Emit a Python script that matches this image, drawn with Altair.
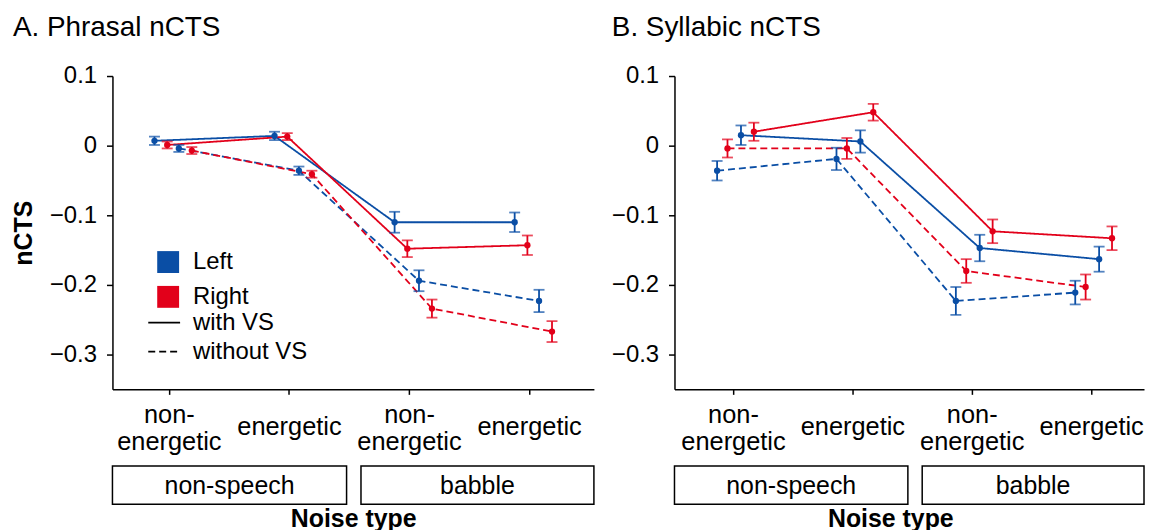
import json
import altair as alt
import pandas as pd

FONT = "Liberation Sans"
BLUE = "#0a4ea5"
RED = "#e2001a"

# ---------------- data ----------------
conditions = ["non-energetic", "energetic", "non-energetic", "energetic"]
condition_lines = [["non-", "energetic"], ["energetic"], ["non-", "energetic"], ["energetic"]]
noise_groups = ["non-speech", "babble"]
group_first = [1, 3]
group_last = [2, 4]
hemispheres = ["Left", "Right"]
vs_labels = ["with VS", "without VS"]

# Panel A: Phrasal nCTS
a_left_vs = [0.007, 0.014, -0.110, -0.110]
a_left_vs_err = [0.006, 0.006, 0.015, 0.014]
a_right_vs = [0.001, 0.013, -0.148, -0.143]
a_right_vs_err = [0.005, 0.005, 0.012, 0.014]
a_left_novs = [-0.004, -0.036, -0.194, -0.223]
a_left_novs_err = [0.005, 0.006, 0.015, 0.016]
a_right_novs = [-0.007, -0.041, -0.234, -0.267]
a_right_novs_err = [0.005, 0.005, 0.013, 0.015]

# Panel B: Syllabic nCTS
b_left_vs = [0.015, 0.006, -0.147, -0.163]
b_left_vs_err = [0.014, 0.016, 0.019, 0.018]
b_right_vs = [0.020, 0.048, -0.123, -0.133]
b_right_vs_err = [0.013, 0.012, 0.017, 0.017]
b_left_novs = [-0.036, -0.019, -0.223, -0.211]
b_left_novs_err = [0.014, 0.016, 0.020, 0.017]
b_right_novs = [-0.004, -0.004, -0.180, -0.203]
b_right_novs_err = [0.013, 0.015, 0.017, 0.018]

# horizontal dodge of each series within a condition (layout)
a_offsets = {("Left", "with VS"): -0.120, ("Right", "with VS"): -0.014,
             ("Left", "without VS"): 0.083, ("Right", "without VS"): 0.191}
b_offsets = {("Left", "without VS"): -0.133, ("Right", "without VS"): -0.046,
             ("Left", "with VS"): 0.067, ("Right", "with VS"): 0.175}

a_series = [("Left", "with VS", a_left_vs, a_left_vs_err),
            ("Right", "with VS", a_right_vs, a_right_vs_err),
            ("Left", "without VS", a_left_novs, a_left_novs_err),
            ("Right", "without VS", a_right_novs, a_right_novs_err)]
b_series = [("Left", "with VS", b_left_vs, b_left_vs_err),
            ("Right", "with VS", b_right_vs, b_right_vs_err),
            ("Left", "without VS", b_left_novs, b_left_novs_err),
            ("Right", "without VS", b_right_novs, b_right_novs_err)]


def build(series, offsets):
    rows = []
    for hemi, vs, means, errs in series:
        for i, (m, e) in enumerate(zip(means, errs)):
            rows.append(dict(hemi=hemi, vs=vs, key=f"{hemi} {vs}", cond=conditions[i],
                             x=i + 1 + offsets[(hemi, vs)], y=m, lo=m - e, hi=m + e))
    return pd.DataFrame(rows)


def boxes(dom, shift):
    n = len(conditions)
    x1, x2 = [], []
    for f, l in zip(group_first, group_last):
        x1.append(dom[0] if f == 1 else f - 0.5 + shift + 0.06)
        x2.append(dom[1] if l == n else l + 0.5 + shift - 0.06)
    d = pd.DataFrame({"group": noise_groups, "x1": x1, "x2": x2})
    d["xm"] = (d["x1"] + d["x2"]) / 2
    return d


multi_test = " || ".join(f"datum.value == {i + 1}" for i, l in enumerate(condition_lines) if len(l) > 1)


def panel(df, title, title_x, dom, width, shift, legend, ytitle, noise_x, anchor):
    height = 315
    xs = alt.Scale(domain=dom, nice=False, zero=False)
    ys = alt.Scale(domain=[-0.35, 0.1], nice=False, zero=False)
    label_expr = json.dumps(condition_lines) + "[datum.value - 1]"
    xaxis = alt.Axis(values=[1, 2, 3, 4], labelExpr=label_expr, labelFontSize=25.5,
                     labelLineHeight=27.5, labelBaseline="middle", labelAlign="center",
                     labelAngle=0,
                     labelPadding={"condition": {"test": multi_test, "value": 20}, "value": 32},
                     tickSize=5, labelFlush=False,
                     labelOverlap=False, grid=False, title="Noise type",
                     titleFontSize=25, titleFontWeight="bold", titleX=noise_x,
                     titleY=138, titleAlign="center", titleBaseline="alphabetic")
    yargs = dict(values=[0.1, 0, -0.1, -0.2, -0.3], format=".1~f", labelFontSize=24,
                 labelPadding=10, tickSize=6, grid=False, labelFlush=False,
                 labelOverlap=False)
    if ytitle:
        yaxis = alt.Axis(title=ytitle, titleFontSize=25, titleFontWeight="bold",
                         titleX=-89, titleY=157.5, titleAngle=270, titleAlign="center",
                         titleBaseline="middle", **yargs)
    else:
        yaxis = alt.Axis(title=None, **yargs)

    if legend:
        col_leg = alt.Legend(orient="none", legendX=44, legendY=175, title=None,
                             symbolType="square", symbolSize=484, symbolStrokeWidth=0,
                             symbolOpacity=1, labelFontSize=24, labelOffset=13,
                             rowPadding=11, padding=0, direction="vertical")
        dash_leg = alt.Legend(orient="none", legendX=35, legendY=231, title=None,
                              symbolType="stroke", symbolSize=1024, symbolStrokeWidth=1.8,
                              symbolStrokeColor="black", labelFontSize=24, labelOffset=12,
                              rowPadding=0, padding=0, direction="vertical")
    else:
        col_leg = None
        dash_leg = None

    cscale = alt.Scale(domain=hemispheres, range=[BLUE, RED])
    dscale = alt.Scale(domain=vs_labels, range=[[1, 0], [7, 4]])
    X = alt.X("x:Q", scale=xs, axis=xaxis)
    stroke = alt.Stroke("hemi:N", scale=cscale, legend=col_leg)
    fill = alt.Fill("hemi:N", scale=cscale, legend=col_leg)
    base = alt.Chart(df)

    line = base.mark_line(strokeWidth=1.8).encode(
        x=X,
        y=alt.Y("y:Q", scale=ys, axis=yaxis),
        stroke=stroke,
        strokeDash=alt.StrokeDash("vs:N", scale=dscale, legend=dash_leg),
        detail="key:N",
    )
    rule = base.mark_rule(strokeWidth=1.8).encode(
        x=X, y=alt.Y("lo:Q", scale=ys, axis=yaxis), y2="hi:Q", stroke=stroke,
    )
    caps = base.transform_fold(["lo", "hi"], as_=["which", "yv"]).mark_tick(
        orient="horizontal", size=11, thickness=1.8
    ).encode(
        x=X, y=alt.Y("yv:Q", scale=ys, axis=yaxis), fill=fill,
    )
    pts = base.mark_circle(size=40, opacity=1).encode(
        x=X, y=alt.Y("y:Q", scale=ys, axis=yaxis), fill=fill,
    )
    bdf = boxes(dom, shift)
    box = alt.Chart(bdf).mark_rect(fill="white", stroke="black", strokeWidth=1.5).encode(
        x=alt.X("x1:Q", scale=xs, axis=xaxis), x2="x2:Q",
        y=alt.value(392), y2=alt.value(430.5),
    )
    box_txt = alt.Chart(bdf).mark_text(fontSize=25, baseline="middle", align="center",
                                       color="black").encode(
        x=alt.X("xm:Q", scale=xs, axis=xaxis), y=alt.value(412), text="group:N",
    )
    ttl = alt.Chart(pd.DataFrame({"t": [title]})).mark_text(
        fontSize=28, align="left", baseline="alphabetic", color="black"
    ).encode(x=alt.value(title_x), y=alt.value(-40.7), text="t:N")

    layers = [line, rule, caps, pts, box, box_txt, ttl]
    if anchor:
        anc = alt.Chart(pd.DataFrame({"a": [0]})).mark_rect(opacity=0).encode(
            x=alt.value(-105), x2=alt.value(-104), y=alt.value(-67), y2=alt.value(-66))
        layers.append(anc)
    return alt.layer(*layers).properties(width=width, height=height)


A = panel(build(a_series, a_offsets), "A. Phrasal nCTS", -100, [0.53, 4.54], 484, 0.04,
          True, "nCTS", 242, True)
B = panel(build(b_series, b_offsets), "B. Syllabic nCTS", -63, [0.51, 4.443], 472, 0.025,
          False, None, 217, False)

chart = alt.hconcat(A, B, spacing=81, bounds="flush").resolve_scale(
    fill="independent", stroke="independent", strokeDash="independent"
).properties(padding=0, background="white").configure_view(stroke=None).configure_axis(
    labelFont=FONT, titleFont=FONT, labelColor="black", titleColor="black",
    domainColor="black", tickColor="black", domainWidth=1.5, tickWidth=1.5
).configure_text(font=FONT).configure_legend(labelFont=FONT, labelColor="black")

chart.save("out.html", embed_options={"renderer": "svg", "actions": False})
